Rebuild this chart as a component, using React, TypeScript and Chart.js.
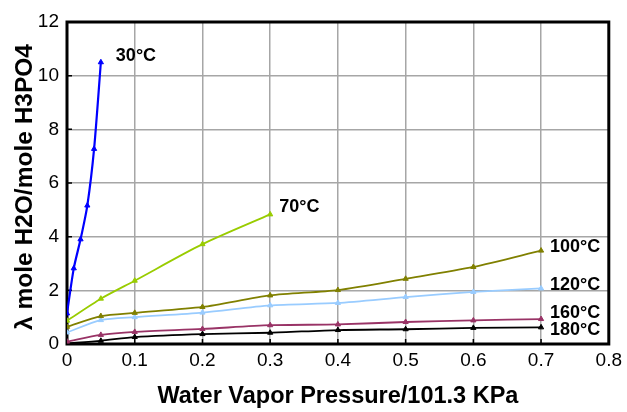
import React, { useEffect, useRef } from "react";
import { Chart, registerables } from "chart.js";

Chart.register(...registerables);

// ---- Data ----
const seriesLabels = ["30°C", "70°C", "100°C", "120°C", "160°C", "180°C"];

const pressure30 = [0, 0.01, 0.02, 0.03, 0.04, 0.05];
const lambda30 = [1.14, 2.82, 3.9, 5.16, 7.27, 10.5];

const pressure70 = [0, 0.05, 0.1, 0.2, 0.3];
const lambda70 = [0.87, 1.69, 2.36, 3.72, 4.83];

const pressureHigh = [0, 0.05, 0.1, 0.2, 0.3, 0.4, 0.5, 0.6, 0.7];
const lambda100 = [0.64, 1.04, 1.16, 1.38, 1.81, 2.01, 2.43, 2.87, 3.48];
const lambda120 = [0.43, 0.89, 1.0, 1.17, 1.44, 1.53, 1.75, 1.94, 2.07];
const lambda160 = [0.09, 0.34, 0.45, 0.56, 0.7, 0.73, 0.82, 0.88, 0.93];
const lambda180 = [0.02, 0.12, 0.26, 0.37, 0.42, 0.52, 0.55, 0.6, 0.62];

const xTickValues = [0, 0.1, 0.2, 0.3, 0.4, 0.5, 0.6, 0.7, 0.8];
const yTickValues = [0, 2, 4, 6, 8, 10, 12];

const xTitle = "Water Vapor Pressure/101.3 KPa";
const yTitle = "λ mole H2O/mole H3PO4";

// ---- Styles ----
const colors = ["#0000ff", "#99cc00", "#808000", "#99ccff", "#993366", "#000000"];
const labelDx = [15, 9, 9, 9, 9, 9];
const labelDy = [-6, -7, -4, -3, -6, 3];

const toPoints = (xs: number[], ys: number[]) => xs.map((x, i) => ({ x, y: ys[i] }));

const seriesData = [
  toPoints(pressure30, lambda30),
  toPoints(pressure70, lambda70),
  toPoints(pressureHigh, lambda100),
  toPoints(pressureHigh, lambda120),
  toPoints(pressureHigh, lambda160),
  toPoints(pressureHigh, lambda180),
];

const tickFont = "'Liberation Sans', Arial, sans-serif";
const boldFont = "'Liberation Sans', Arial, sans-serif";

const framePlugin = {
  id: "frame",
  beforeDatasetsDraw(chart: any) {
    const { ctx, chartArea } = chart;
    const { left, right, top, bottom } = chartArea;
    ctx.save();
    ctx.strokeStyle = "#000";
    ctx.lineWidth = 1.5;
    const xs = chart.scales.x;
    const ys = chart.scales.y;
    ctx.beginPath();
    xTickValues.forEach((v) => {
      const px = xs.getPixelForValue(v);
      ctx.moveTo(px, bottom);
      ctx.lineTo(px, bottom - 5);
    });
    yTickValues.forEach((v) => {
      const py = ys.getPixelForValue(v);
      ctx.moveTo(left, py);
      ctx.lineTo(left + 5, py);
    });
    ctx.stroke();
    ctx.lineWidth = 3;
    ctx.strokeRect(left, top, right - left, bottom - top);
    ctx.restore();
  },
};

const labelPlugin = {
  id: "seriesLabels",
  afterDatasetsDraw(chart: any) {
    const { ctx } = chart;
    ctx.save();
    ctx.font = `bold 18px ${boldFont}`;
    ctx.fillStyle = "#000";
    ctx.textAlign = "left";
    ctx.textBaseline = "middle";
    chart.data.datasets.forEach((ds: any, i: number) => {
      const meta = chart.getDatasetMeta(i);
      const last = meta.data[meta.data.length - 1];
      if (!last) return;
      ctx.fillText(seriesLabels[i], last.x + labelDx[i], last.y + labelDy[i]);
    });
    ctx.restore();
  },
};

const yTitlePlugin = {
  id: "yTitle",
  afterDraw(chart: any) {
    const { ctx, chartArea } = chart;
    ctx.save();
    ctx.font = `bold 24.5px ${boldFont}`;
    ctx.fillStyle = "#000";
    ctx.textBaseline = "middle";
    ctx.translate(25, chartArea.top + 22);
    ctx.rotate(-Math.PI / 2);
    ctx.textAlign = "right";
    ctx.fillText(yTitle, 0, 0);
    ctx.restore();
  },
};

export default function App() {
  const canvasRef = useRef<HTMLCanvasElement | null>(null);

  useEffect(() => {
    if (!canvasRef.current) return;
    const chart = new Chart(canvasRef.current, {
      type: "line",
      data: {
        datasets: seriesData.map((pts, i) => ({
          label: seriesLabels[i],
          data: pts,
          borderColor: colors[i],
          backgroundColor: colors[i],
          borderWidth: i === 0 ? 2.2 : 1.8,
          pointStyle: "triangle",
          pointRadius: 3,
          pointBorderWidth: 1,
          pointBackgroundColor: colors[i],
          pointBorderColor: colors[i],
          tension: 0.25,
          fill: false,
        })),
      },
      options: {
        animation: false,
        responsive: true,
        maintainAspectRatio: false,
        layout: { padding: { left: 0, top: 22, right: 15, bottom: 0 } },
        plugins: {
          legend: { display: false },
          tooltip: { enabled: false },
        },
        scales: {
          x: {
            type: "linear",
            min: 0,
            max: 0.8,
            afterFit: (scale: any) => {
              scale.height = 68;
            },
            afterBuildTicks: (scale: any) => {
              scale.ticks = xTickValues.map((v) => ({ value: v }));
            },
            ticks: {
              color: "#000",
              font: { family: tickFont, size: 19 },
              padding: 5,
              maxRotation: 0,
              autoSkip: false,
              callback: (v: any) => (Number(v) === 0 ? "0" : Number(v).toFixed(1)),
            },
            grid: { color: "#a6a6a6", lineWidth: 1.5, drawTicks: false },
            border: { display: false },
            title: {
              display: true,
              text: xTitle,
              color: "#000",
              font: { family: boldFont, size: 23.5, weight: "bold" },
              padding: { top: 0, bottom: 1 },
            },
          },
          y: {
            type: "linear",
            min: 0,
            max: 12,
            afterFit: (scale: any) => {
              scale.width = 67;
            },
            afterBuildTicks: (scale: any) => {
              scale.ticks = yTickValues.map((v) => ({ value: v }));
            },
            ticks: {
              color: "#000",
              font: { family: tickFont, size: 19 },
              padding: 8,
              autoSkip: false,
            },
            grid: { color: "#a6a6a6", lineWidth: 1.5, drawTicks: false },
            border: { display: false },
            title: { display: false },
          },
        },
      },
      plugins: [framePlugin, labelPlugin, yTitlePlugin],
    });
    return () => chart.destroy();
  }, []);

  return (
    <div style={{ position: "absolute", left: 0, top: 0, width: 627, height: 412, background: "#fff" }}>
      <canvas ref={canvasRef} />
    </div>
  );
}
